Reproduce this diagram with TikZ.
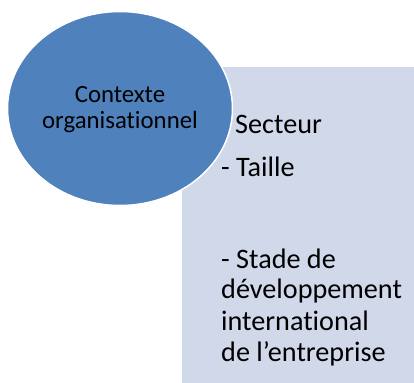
\documentclass[tikz,border=0pt]{standalone}
\usepackage{fontspec}
\setmainfont[Ligatures={NoCommon}]{Carlito}
\usetikzlibrary{shapes.geometric}
\definecolor{ellblue}{HTML}{4F81BD}
\definecolor{boxfill}{HTML}{D0D8E9}
\tikzset{
  ctxshape/.style={ellipse, fill=ellblue, draw=white, line width=1.5bp, inner sep=0pt,
    minimum width=225bp, minimum height=194bp},
  boxshape/.style={rectangle, fill=boxfill, draw=none, inner sep=0pt, anchor=north west,
    minimum width=232bp, minimum height=316bp},
  ctxtext/.style={anchor=base, inner sep=0pt, font=\fontsize{24.8bp}{26bp}\selectfont},
  itemtext/.style={anchor=base west, inner sep=0pt, font=\fontsize{28.2bp}{31bp}\selectfont}
}
\begin{document}
\begin{tikzpicture}[x=1bp,y=-1bp]
\useasboundingbox (0,0) rectangle (414,383);
\node[boxshape] (box) at (182,67) {};
\node[ctxshape] (ctx) at (120,108.5) {};
\node[ctxtext] (c1) at (120,102) {Contexte};
\node[ctxtext] (c2) at (120,128) {organisationnel};
\node[itemtext] (t1) at (235,133) {Secteur};
\node[itemtext] (t2) at (221,176) {- Taille};
\node[itemtext] (t3) at (221,268) {- Stade de};
\node[itemtext] (t4) at (221,298.5) {développement};
\node[itemtext] (t5) at (221,330) {international};
\node[itemtext] (t6) at (221,361.5) {de l’entreprise};
\end{tikzpicture}
\end{document}
